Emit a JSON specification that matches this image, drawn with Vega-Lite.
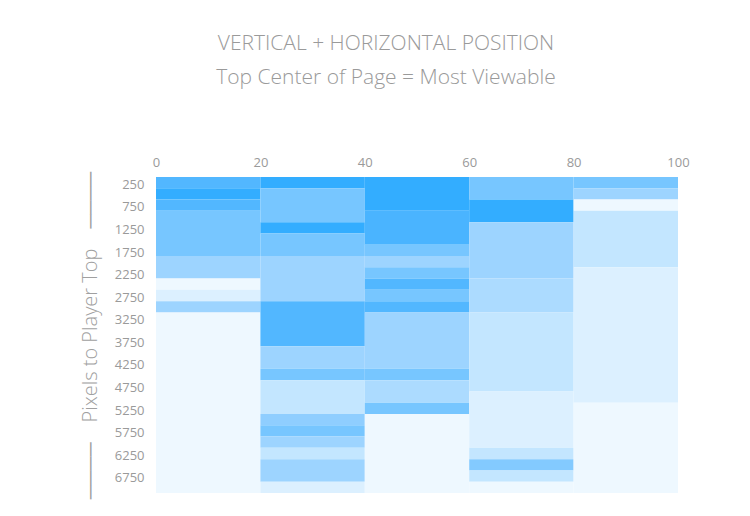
{
  "$schema": "https://vega.github.io/schema/vega-lite/v6.json",
  "width": 522,
  "height": 316,
  "autosize": "none",
  "padding": {"left": 156, "top": 177, "right": 72, "bottom": 23},
  "background": "white",
  "config": {
    "view": {"stroke": null},
    "font": "Open Sans"
  },
  "title": {
    "text": "VERTICAL + HORIZONTAL POSITION",
    "subtitle": "Top Center of Page = Most Viewable",
    "anchor": "middle",
    "dx": -31,
    "offset": 68,
    "font": "Open Sans",
    "fontSize": 21,
    "fontWeight": 300,
    "color": "#9a9a9a",
    "subtitleFont": "Open Sans",
    "subtitleFontSize": 21,
    "subtitleFontWeight": 300,
    "subtitleColor": "#9a9a9a",
    "subtitlePadding": 13
  },
  "data": {
    "values": [
      {"col": 0, "x0": 0, "x1": 20, "y0": 0, "y1": 250, "level": 6},
      {"col": 0, "x0": 0, "x1": 20, "y0": 250, "y1": 500, "level": 7},
      {"col": 0, "x0": 0, "x1": 20, "y0": 500, "y1": 750, "level": 6},
      {"col": 0, "x0": 0, "x1": 20, "y0": 750, "y1": 1750, "level": 5},
      {"col": 0, "x0": 0, "x1": 20, "y0": 1750, "y1": 2250, "level": 4},
      {"col": 0, "x0": 0, "x1": 20, "y0": 2250, "y1": 2500, "level": 1},
      {"col": 0, "x0": 0, "x1": 20, "y0": 2500, "y1": 2750, "level": 2},
      {"col": 0, "x0": 0, "x1": 20, "y0": 2750, "y1": 3000, "level": 4},
      {"col": 0, "x0": 0, "x1": 20, "y0": 3000, "y1": 7000, "level": 1},

      {"col": 20, "x0": 20, "x1": 40, "y0": 0, "y1": 250, "level": 7},
      {"col": 20, "x0": 20, "x1": 40, "y0": 250, "y1": 1000, "level": 5},
      {"col": 20, "x0": 20, "x1": 40, "y0": 1000, "y1": 1250, "level": 7},
      {"col": 20, "x0": 20, "x1": 40, "y0": 1250, "y1": 1750, "level": 5},
      {"col": 20, "x0": 20, "x1": 40, "y0": 1750, "y1": 2750, "level": 4},
      {"col": 20, "x0": 20, "x1": 40, "y0": 2750, "y1": 3750, "level": 6},
      {"col": 20, "x0": 20, "x1": 40, "y0": 3750, "y1": 4250, "level": 4},
      {"col": 20, "x0": 20, "x1": 40, "y0": 4250, "y1": 4500, "level": 5},
      {"col": 20, "x0": 20, "x1": 40, "y0": 4500, "y1": 5250, "level": 3},
      {"col": 20, "x0": 20, "x1": 40, "y0": 5250, "y1": 5500, "level": 4.4},
      {"col": 20, "x0": 20, "x1": 40, "y0": 5500, "y1": 5750, "level": 5},
      {"col": 20, "x0": 20, "x1": 40, "y0": 5750, "y1": 6000, "level": 4},
      {"col": 20, "x0": 20, "x1": 40, "y0": 6000, "y1": 6250, "level": 3},
      {"col": 20, "x0": 20, "x1": 40, "y0": 6250, "y1": 6750, "level": 4},
      {"col": 20, "x0": 20, "x1": 40, "y0": 6750, "y1": 7000, "level": 2},

      {"col": 40, "x0": 40, "x1": 60, "y0": 0, "y1": 750, "level": 7},
      {"col": 40, "x0": 40, "x1": 60, "y0": 750, "y1": 1500, "level": 6.3},
      {"col": 40, "x0": 40, "x1": 60, "y0": 1500, "y1": 1750, "level": 5},
      {"col": 40, "x0": 40, "x1": 60, "y0": 1750, "y1": 2000, "level": 4},
      {"col": 40, "x0": 40, "x1": 60, "y0": 2000, "y1": 2250, "level": 5},
      {"col": 40, "x0": 40, "x1": 60, "y0": 2250, "y1": 2500, "level": 6},
      {"col": 40, "x0": 40, "x1": 60, "y0": 2500, "y1": 2750, "level": 5},
      {"col": 40, "x0": 40, "x1": 60, "y0": 2750, "y1": 3000, "level": 6},
      {"col": 40, "x0": 40, "x1": 60, "y0": 3000, "y1": 4250, "level": 4},
      {"col": 40, "x0": 40, "x1": 60, "y0": 4250, "y1": 4500, "level": 5},
      {"col": 40, "x0": 40, "x1": 60, "y0": 4500, "y1": 5000, "level": 3.6},
      {"col": 40, "x0": 40, "x1": 60, "y0": 5000, "y1": 5250, "level": 5},
      {"col": 40, "x0": 40, "x1": 60, "y0": 5250, "y1": 7000, "level": 1},

      {"col": 60, "x0": 60, "x1": 80, "y0": 0, "y1": 500, "level": 5},
      {"col": 60, "x0": 60, "x1": 80, "y0": 500, "y1": 1000, "level": 7},
      {"col": 60, "x0": 60, "x1": 80, "y0": 1000, "y1": 2250, "level": 4},
      {"col": 60, "x0": 60, "x1": 80, "y0": 2250, "y1": 3000, "level": 3.6},
      {"col": 60, "x0": 60, "x1": 80, "y0": 3000, "y1": 4750, "level": 3},
      {"col": 60, "x0": 60, "x1": 80, "y0": 4750, "y1": 6000, "level": 2},
      {"col": 60, "x0": 60, "x1": 80, "y0": 6000, "y1": 6250, "level": 3},
      {"col": 60, "x0": 60, "x1": 80, "y0": 6250, "y1": 6500, "level": 4.7},
      {"col": 60, "x0": 60, "x1": 80, "y0": 6500, "y1": 6750, "level": 3},
      {"col": 60, "x0": 60, "x1": 80, "y0": 6750, "y1": 7000, "level": 1},

      {"col": 80, "x0": 80, "x1": 100, "y0": 0, "y1": 250, "level": 5},
      {"col": 80, "x0": 80, "x1": 100, "y0": 250, "y1": 500, "level": 4},
      {"col": 80, "x0": 80, "x1": 100, "y0": 500, "y1": 750, "level": 1},
      {"col": 80, "x0": 80, "x1": 100, "y0": 750, "y1": 2000, "level": 3},
      {"col": 80, "x0": 80, "x1": 100, "y0": 2000, "y1": 5000, "level": 2},
      {"col": 80, "x0": 80, "x1": 100, "y0": 5000, "y1": 7000, "level": 1}
    ]
  },
  "mark": {"type": "rect", "strokeWidth": 0},
  "encoding": {
    "x": {
      "field": "x0",
      "type": "quantitative",
      "scale": {"domain": [0, 100], "nice": false},
      "axis": {
        "orient": "top",
        "values": [0, 20, 40, 60, 80, 100],
        "title": null,
        "grid": false,
        "domain": false,
        "ticks": false,
        "labelPadding": 8,
        "labelFont": "Open Sans",
        "labelFontSize": 13,
        "labelColor": "#9a9a9a",
        "labelFlush": false
      }
    },
    "x2": {"field": "x1"},
    "y": {
      "field": "y0",
      "type": "quantitative",
      "scale": {"domain": [0, 7000], "reverse": true, "nice": false},
      "axis": {
        "values": [250, 750, 1250, 1750, 2250, 2750, 3250, 3750, 4250, 4750, 5250, 5750, 6250, 6750],
        "format": "d",
        "title": "────\u2003Pixels to Player Top\u2003────",
        "titleFont": "Open Sans",
        "titleFontSize": 20,
        "titleFontWeight": 300,
        "titleColor": "#a0a0a0",
        "titlePadding": 14,
        "grid": false,
        "domain": false,
        "ticks": false,
        "labelPadding": 12,
        "labelOffset": -4,
        "labelFont": "Open Sans",
        "labelFontSize": 13,
        "labelColor": "#9a9a9a",
        "labelFlush": false
      }
    },
    "y2": {"field": "y1"},
    "color": {
      "field": "level",
      "type": "quantitative",
      "scale": {
        "domain": [1, 2, 3, 4, 5, 6, 7],
        "range": ["#eef8ff", "#dcf0ff", "#c3e6ff", "#9dd4ff", "#77c6ff", "#52b7ff", "#33adff"]
      },
      "legend": null
    }
  }
}
